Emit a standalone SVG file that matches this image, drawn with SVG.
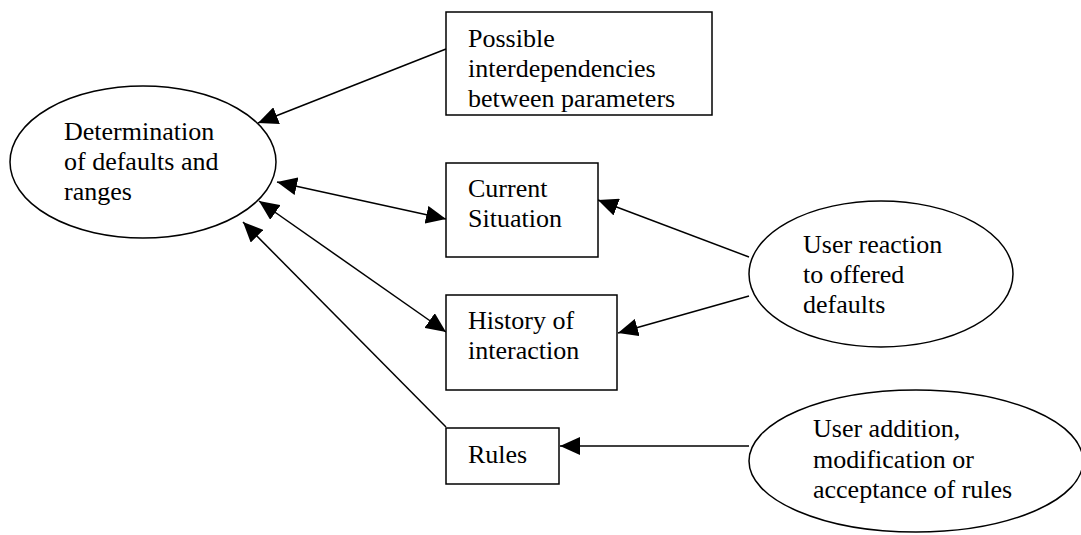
<svg xmlns="http://www.w3.org/2000/svg" width="1081" height="535" viewBox="0 0 1081 535">
<style>
.shape{fill:#fff;stroke:#000;stroke-width:1.5}
.conn{stroke:#000;stroke-width:1.5;fill:none}
text{font-family:"Liberation Serif","Times New Roman",serif;font-size:26px;fill:#000}
</style>
<defs>
<marker id="ah" viewBox="0 0 20 18" refX="20" refY="9" markerWidth="20" markerHeight="18" markerUnits="userSpaceOnUse" orient="auto-start-reverse">
<path d="M0,0 L20,9 L0,18 Z" fill="#000"/>
</marker>
</defs>
<rect width="1081" height="535" fill="#fff"/>
<g id="connectors">
<line class="conn" x1="446" y1="49" x2="258" y2="123" marker-end="url(#ah)"/>
<line class="conn" x1="277" y1="182" x2="446" y2="219" marker-start="url(#ah)" marker-end="url(#ah)"/>
<line class="conn" x1="259" y1="201" x2="446" y2="332" marker-start="url(#ah)" marker-end="url(#ah)"/>
<line class="conn" x1="446" y1="427" x2="243" y2="222" marker-end="url(#ah)"/>
<line class="conn" x1="749" y1="257" x2="598" y2="200" marker-end="url(#ah)"/>
<line class="conn" x1="749" y1="296" x2="618" y2="333" marker-end="url(#ah)"/>
<line class="conn" x1="749" y1="446" x2="560" y2="446" marker-end="url(#ah)"/>
</g>
<g id="determination">
<ellipse class="shape" cx="143" cy="162" rx="133" ry="76"/>
<text x="64" y="140">Determination</text>
<text x="64" y="170">of defaults and</text>
<text x="64" y="200">ranges</text>
</g>
<g id="interdependencies">
<rect class="shape" x="446" y="12" width="266" height="103"/>
<text x="468" y="47">Possible</text>
<text x="468" y="77">interdependencies</text>
<text x="468" y="107">between parameters</text>
</g>
<g id="current">
<rect class="shape" x="446" y="163" width="152" height="94"/>
<text x="468" y="197">Current</text>
<text x="468" y="227">Situation</text>
</g>
<g id="history">
<rect class="shape" x="446" y="295" width="171" height="95"/>
<text x="468" y="329">History of</text>
<text x="468" y="359">interaction</text>
</g>
<g id="rules">
<rect class="shape" x="446" y="428" width="113" height="56"/>
<text x="468" y="463">Rules</text>
</g>
<g id="user-reaction">
<ellipse class="shape" cx="881" cy="274" rx="132" ry="73"/>
<text x="803" y="253">User reaction</text>
<text x="803" y="283">to offered</text>
<text x="803" y="313">defaults</text>
</g>
<g id="user-addition">
<ellipse class="shape" cx="916" cy="461" rx="167" ry="71"/>
<text x="813" y="437">User addition,</text>
<text x="813" y="468">modification or</text>
<text x="813" y="498">acceptance of rules</text>
</g>
</svg>
